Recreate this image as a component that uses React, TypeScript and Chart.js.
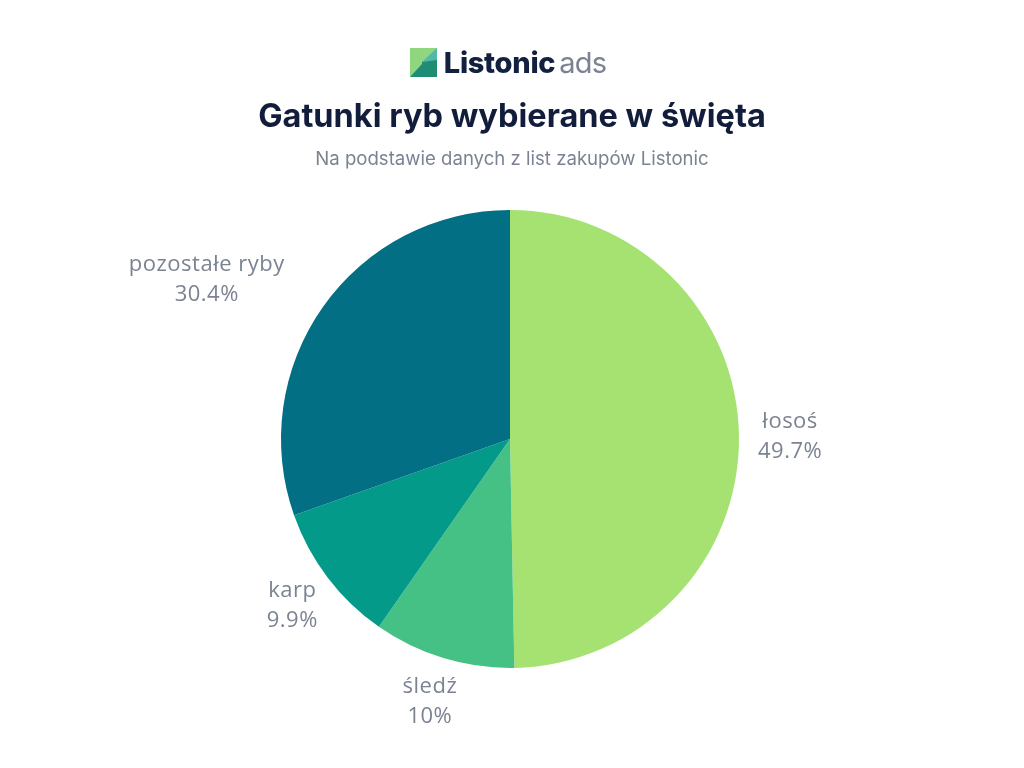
import React, { useEffect, useRef } from "react";
import { Chart, registerables } from "chart.js";

Chart.register(...registerables);

const categories = ["łosoś", "śledź", "karp", "pozostałe ryby"];
const values = [49.7, 10, 9.9, 30.4];
const valueLabels = ["49.7%", "10%", "9.9%", "30.4%"];
const colors = ["#a6e271", "#46c185", "#039a8a", "#026f85"];

const TITLE = "Gatunki ryb wybierane w święta";
const SUBTITLE = "Na podstawie danych z list zakupów Listonic";

const labelPlugin = {
  id: "outsideLabels",
  afterDraw(chart: any) {
    const ctx = chart.ctx;
    const meta = chart.getDatasetMeta(0);
    ctx.save();
    ctx.font = "22px 'Open Sans', sans-serif";
    try {
      (ctx as any).letterSpacing = "0.5px";
    } catch (e) {}
    ctx.fillStyle = "#7b8393";
    ctx.textBaseline = "middle";
    ctx.textAlign = "center";
    const lineH = 30;
    meta.data.forEach((arc: any, i: number) => {
      const p = arc.getProps(["x", "y", "startAngle", "endAngle", "outerRadius"], true);
      const mid = (p.startAngle + p.endAngle) / 2;
      const dx = Math.cos(mid);
      const dy = Math.sin(mid);
      const lines = [categories[i], valueLabels[i]];
      const w = Math.max(...lines.map((l) => ctx.measureText(l).width));
      const h = lineH * lines.length - 6;
      const R = p.outerRadius + 19;
      const ax = p.x + dx * R;
      const ay = p.y + dy * R;
      let cx = ax + (dx * w) / 2;
      const cy = ay + (dy * h) / 2;
      // push horizontally away if the box overlaps the pie
      const nearX = dx < 0 ? cx + w / 2 : cx - w / 2;
      const nearY = dy < 0 ? cy + h / 2 : cy - h / 2;
      const ddy = nearY - p.y;
      const dist = Math.hypot(nearX - p.x, ddy);
      if (dist < p.outerRadius + 2) {
        const target = p.outerRadius + 32;
        const needX = Math.sqrt(Math.max(0, target * target - ddy * ddy));
        const newNearX = p.x + Math.sign(dx) * needX;
        cx += newNearX - nearX;
      }
      lines.forEach((l, j) => {
        ctx.fillText(l, cx, cy + (j - (lines.length - 1) / 2) * lineH);
      });
    });
    ctx.restore();
  },
};

export default function App() {
  const ref = useRef<HTMLCanvasElement>(null);
  useEffect(() => {
    if (!ref.current) return;
    const chart = new Chart(ref.current, {
      type: "pie",
      data: {
        labels: categories,
        datasets: [
          {
            data: values,
            backgroundColor: colors,
            borderWidth: 0,
          },
        ],
      },
      options: {
        animation: false,
        responsive: false,
        layout: { padding: { top: 210, bottom: 100, left: 0, right: 4 } },
        plugins: {
          legend: { display: false },
          tooltip: { enabled: false },
          title: { display: false },
        },
      },
      plugins: [labelPlugin],
    });
    return () => chart.destroy();
  }, []);

  return (
    <div
      style={{
        position: "absolute",
        left: 0,
        top: 0,
        width: 1024,
        height: 768,
        background: "#ffffff",
        overflow: "hidden",
      }}
    >
      <canvas ref={ref} width={1024} height={768} style={{ position: "absolute", left: 0, top: 0 }} />
      <div
        style={{
          position: "absolute",
          left: -4,
          top: 45,
          width: 1024,
          display: "flex",
          justifyContent: "center",
          alignItems: "center",
          gap: 7,
          fontFamily: "Inter, sans-serif",
        }}
      >
        <svg width="27" height="29" viewBox="0 0 27 29">
          <rect x="0" y="0" width="27" height="29" fill="#8fd67f" />
          <polygon points="12,14 27,0 27,14" fill="#52b9a7" />
          <polygon points="0,29 12,16 12,14 27,12 27,29" fill="#1e8d74" />
        </svg>
        <span style={{ fontSize: 29, fontWeight: 800, color: "#13203f", letterSpacing: -0.3 }}>
          Listonic
          <span style={{ fontWeight: 400, color: "#7b8393", marginLeft: 4, letterSpacing: -0.8 }}>ads</span>
        </span>
      </div>
      <div
        style={{
          position: "absolute",
          left: 0,
          top: 96,
          width: 1024,
          textAlign: "center",
          fontFamily: "Inter, sans-serif",
          fontWeight: 700,
          fontSize: 32.5,
          color: "#111d3b",
        }}
      >
        {TITLE}
      </div>
      <div
        style={{
          position: "absolute",
          left: 0,
          top: 147,
          width: 1024,
          textAlign: "center",
          fontFamily: "Inter, sans-serif",
          fontSize: 18.6,
          color: "#7b8393",
        }}
      >
        {SUBTITLE}
      </div>
    </div>
  );
}
